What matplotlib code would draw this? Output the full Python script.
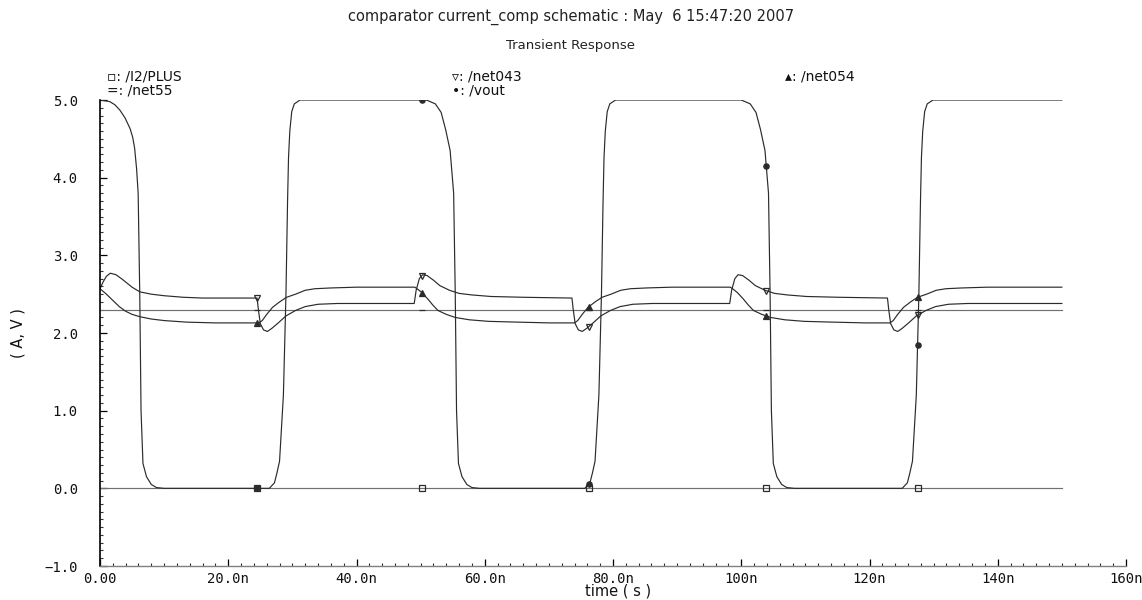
import numpy as np
import matplotlib
matplotlib.use('Agg')
import matplotlib.pyplot as plt
from matplotlib.ticker import MultipleLocator

# ---- data (time in ns, volts) ----
vout_t = [0, 1.5, 2.3, 3.1, 3.9, 4.7, 5.1, 5.4, 5.7, 5.95, 6.2, 6.4, 6.7, 7.25, 8.0, 8.8, 10.0,
          26.4, 27.2, 27.6, 28.0, 28.6, 29.0, 29.25, 29.4, 29.6, 29.9, 30.3, 31.2,
          50.9, 52.3, 53.2, 53.9, 54.6, 54.9, 55.15, 55.4, 55.6, 55.9, 56.45, 57.2, 58.0, 59.2,
          75.6, 76.4, 76.8, 77.2, 77.8, 78.2, 78.45, 78.6, 78.8, 79.1, 79.5, 80.4,
          100.0, 101.4, 102.3, 103.0, 103.7, 104.0, 104.25, 104.5, 104.7, 105.0, 105.55, 106.3, 107.1, 108.3,
          125.1, 125.9, 126.3, 126.7, 127.3, 127.7, 127.95, 128.1, 128.3, 128.6, 129.0, 129.9,
          150.0]
vout_v = [5.0, 4.98, 4.94, 4.87, 4.77, 4.63, 4.52, 4.38, 4.12, 3.8, 2.5, 1.0, 0.32, 0.15, 0.05, 0.01, 0.0,
          0.0, 0.07, 0.2, 0.35, 1.2, 2.5, 3.7, 4.26, 4.6, 4.85, 4.95, 5.0,
          5.0, 4.95, 4.84, 4.62, 4.35, 4.05, 3.8, 2.5, 1.0, 0.32, 0.15, 0.05, 0.01, 0.0,
          0.0, 0.07, 0.2, 0.35, 1.2, 2.5, 3.7, 4.26, 4.6, 4.85, 4.95, 5.0,
          5.0, 4.95, 4.84, 4.62, 4.35, 4.05, 3.8, 2.5, 1.0, 0.32, 0.15, 0.05, 0.01, 0.0,
          0.0, 0.07, 0.2, 0.35, 1.2, 2.5, 3.7, 4.26, 4.6, 4.85, 4.95, 5.0,
          5.0]

net043_t = [0, 0.5, 1.0, 1.6, 2.5, 3.5, 5.0, 6.2, 8.0, 10.0, 13.0, 16.0, 24.5,
            24.7, 25.0, 25.5, 26.1, 26.8, 27.8, 29.0, 30.5, 32.0, 34.0, 37.0, 49.0,
            49.3, 49.8, 50.3, 51.0, 52.0, 53.0, 54.5, 56.0, 58.0, 61.0, 66.0, 73.6,
            73.8, 74.1, 74.6, 75.2, 75.9, 76.9, 78.1, 79.6, 81.1, 83.1, 86.1, 98.2,
            98.5, 99.0, 99.5, 100.2, 101.2, 102.2, 103.7, 105.2, 107.2, 110.2, 115.2, 122.8,
            123.0, 123.3, 123.8, 124.4, 125.1, 126.1, 127.3, 128.8, 130.3, 132.3, 135.3, 150.0]
net043_v = [2.57, 2.66, 2.73, 2.77, 2.75, 2.69, 2.59, 2.53, 2.50, 2.48, 2.46, 2.45, 2.45,
            2.30, 2.12, 2.04, 2.02, 2.06, 2.13, 2.22, 2.29, 2.34, 2.37, 2.38, 2.38,
            2.55, 2.70, 2.75, 2.74, 2.68, 2.61, 2.55, 2.51, 2.49, 2.47, 2.46, 2.45,
            2.30, 2.12, 2.04, 2.02, 2.06, 2.13, 2.22, 2.29, 2.34, 2.37, 2.38, 2.38,
            2.55, 2.70, 2.75, 2.74, 2.68, 2.61, 2.55, 2.51, 2.49, 2.47, 2.46, 2.45,
            2.30, 2.12, 2.04, 2.02, 2.06, 2.13, 2.22, 2.29, 2.34, 2.37, 2.38, 2.38]

net054_t = [0, 1.0, 2.0, 3.0, 4.0, 5.0, 6.2, 8.0, 10.0, 13.5, 18.0, 24.8,
            25.3, 26.0, 26.9, 28.0, 29.1, 30.5, 32.0, 33.5, 36.0, 40.0, 49.1,
            49.6, 50.2, 51.1, 51.9, 52.7, 54.0, 55.4, 57.6, 60.6, 65.1, 70.1, 74.0,
            74.5, 75.2, 76.1, 77.2, 78.3, 79.7, 81.2, 82.7, 85.2, 89.2, 98.3,
            98.8, 99.4, 100.3, 101.1, 101.9, 103.2, 104.6, 106.8, 109.8, 114.3, 119.3, 123.2,
            123.7, 124.4, 125.3, 126.4, 127.5, 128.9, 130.4, 131.9, 134.4, 138.4, 150.0]
net054_v = [2.57, 2.50, 2.42, 2.34, 2.28, 2.24, 2.21, 2.18, 2.16, 2.14, 2.13, 2.13,
            2.16, 2.24, 2.33, 2.40, 2.46, 2.50, 2.55, 2.57, 2.58, 2.59, 2.59,
            2.56, 2.52, 2.44, 2.36, 2.29, 2.24, 2.20, 2.17, 2.15, 2.14, 2.13, 2.13,
            2.16, 2.24, 2.33, 2.40, 2.46, 2.50, 2.55, 2.57, 2.58, 2.59, 2.59,
            2.56, 2.52, 2.44, 2.36, 2.29, 2.24, 2.20, 2.17, 2.15, 2.14, 2.13, 2.13,
            2.16, 2.24, 2.33, 2.40, 2.46, 2.50, 2.55, 2.57, 2.58, 2.59, 2.59]

net55_t = [0, 150.0]
net55_v = [2.30, 2.30]
plus_t = [0, 150.0]
plus_v = [0.0, 0.0]

marker_t = [24.5, 50.2, 76.2, 103.9, 127.5]

xtick_vals = [0, 20, 40, 60, 80, 100, 120, 140, 160]
xtick_labels = ["0.00", "20.0n", "40.0n", "60.0n", "80.0n", "100n", "120n", "140n", "160n"]
ytick_vals = [-1, 0, 1, 2, 3, 4, 5]
ytick_labels = ["\u22121.0", "0.0", "1.0", "2.0", "3.0", "4.0", "5.0"]

# ---- figure ----
fig = plt.figure(figsize=(11.42, 6.0), dpi=100)
ax = fig.add_axes([100 / 1142, 1 - 566 / 600, 1026 / 1142, 466 / 600])

dark = '#2b2b2b'
grey = '#707070'

traces = [
    (plus_t, plus_v, grey, 's', 'none'),
    (net55_t, net55_v, grey, '_', dark),
    (net043_t, net043_v, dark, 'v', 'none'),
    (net054_t, net054_v, dark, '^', dark),
    (vout_t, vout_v, dark, 'o', dark),
]
for t, v, col, mk, fc in traces:
    ax.plot(t, v, color=col, lw=0.85, solid_joinstyle='round')
    # symbols sit on the curve at the marker times
    mv = np.interp(marker_t, t, v)
    ax.plot(marker_t, mv, linestyle='none', marker=mk, ms=3.8,
            mfc=fc, mec=dark, mew=0.9)

ax.set_xlim(0, 160)
ax.set_ylim(-1, 5)
for s in ['top', 'right']:
    ax.spines[s].set_visible(False)
ax.spines['left'].set_color('black')
ax.spines['left'].set_linewidth(1.2)
ax.spines['bottom'].set_color('#808080')
ax.spines['bottom'].set_linewidth(1.0)

ax.set_xticks(xtick_vals, xtick_labels)
ax.set_yticks(ytick_vals, ytick_labels)
ax.xaxis.set_minor_locator(MultipleLocator(2))
ax.yaxis.set_minor_locator(MultipleLocator(0.1))
ax.tick_params(which='major', direction='in', length=5, width=0.9, color='black')
ax.tick_params(which='minor', direction='in', length=2.5, width=0.8, color='#333333')
ax.tick_params(axis='y', which='major', pad=16)
ax.tick_params(axis='x', which='major', pad=4)
for lab in ax.get_xticklabels() + ax.get_yticklabels():
    lab.set_family('DejaVu Sans Mono')
    lab.set_fontsize(10)
    lab.set_color('#111111')

ax.set_xlabel("time ( s )", fontsize=10.5, color='#111111', va='center')
ax.xaxis.set_label_coords((618 - 100) / 1026, (566 - 591) / 466)
ax.set_ylabel("( A, V )", fontsize=10.5, color='#111111', va='center')
ax.yaxis.set_label_coords((18 - 100) / 1026, 0.5)

fig.text(0.5, 1 - 17 / 600, "comparator current_comp schematic : May  6 15:47:20 2007",
         ha='center', va='center', fontsize=10.5, color='#222222')
fig.text(0.5, 1 - 45 / 600, "Transient Response",
         ha='center', va='center', fontsize=9.5, color='#222222')

legend_items = [
    (107, 77, "\u25ab: /I2/PLUS"),
    (107, 90, "=: /net55"),
    (452, 77, "\u25bf: /net043"),
    (452, 90, "\u2022: /vout"),
    (785, 77, "\u25b4: /net054"),
]
for x, y, txt in legend_items:
    fig.text(x / 1142, 1 - y / 600, txt, ha='left', va='center',
             fontsize=10, color='#111111')

fig.savefig("out.png", dpi=100)
